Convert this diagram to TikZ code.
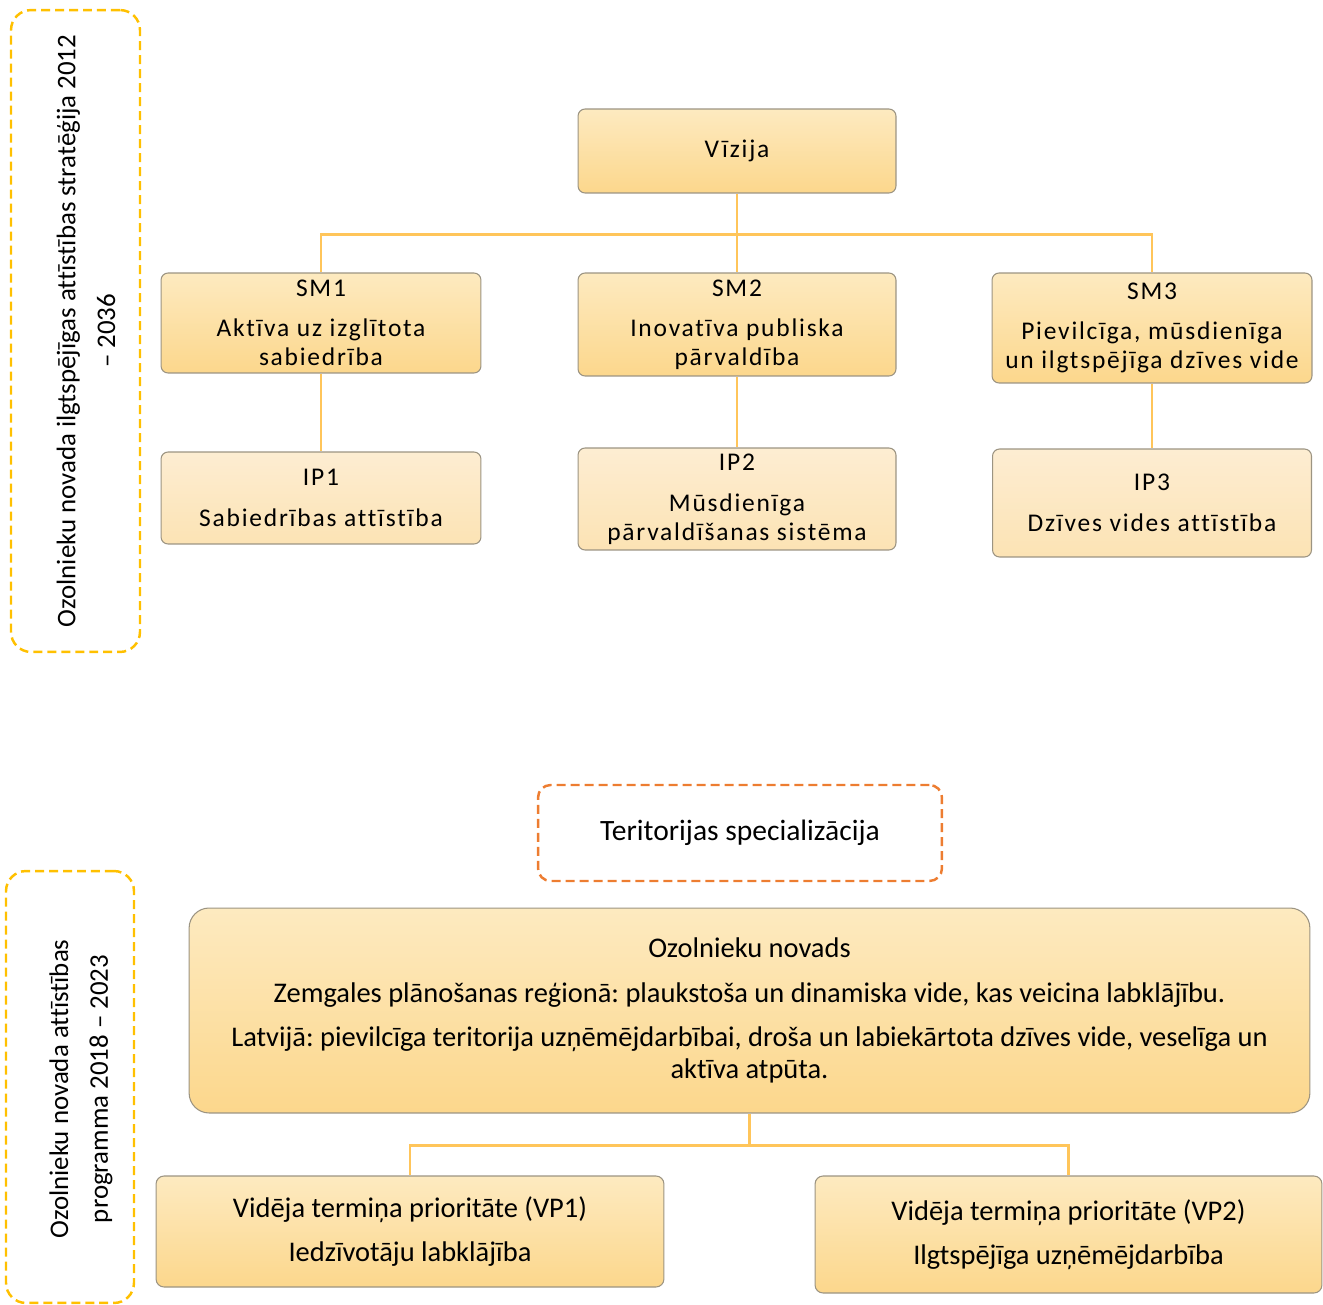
\documentclass[tikz,border=0pt]{standalone}
\usepackage{fontspec}
\setmainfont{Carlito}[Ligatures=NoCommon]
\newfontfamily\boxfont{Carlito}[LetterSpace=7, Ligatures=NoCommon]
\usetikzlibrary{positioning}
\frenchspacing

\definecolor{framegold}{HTML}{FFC000}
\definecolor{frameorange}{HTML}{ED7D31}
\definecolor{linkgold}{HTML}{FFC55A}
\definecolor{boxedge}{HTML}{9C9482}
\definecolor{boxtop}{HTML}{FDEAC0}
\definecolor{boxbottom}{HTML}{FCD78C}
\definecolor{iptop}{HTML}{FDEDD2}
\definecolor{ipbottom}{HTML}{FCE3B4}

\begin{document}
\begin{tikzpicture}[
    x=0.02cm, y=-0.02cm,
    goalbox/.style={draw=boxedge, line width=0.6pt, rounded corners=4pt, top color=boxtop, bottom color=boxbottom, align=center, inner sep=0pt, font=\boxfont\fontsize{14.5}{16.5}\selectfont},
    ipbox/.style={goalbox, top color=iptop, bottom color=ipbottom},
    progbox/.style={draw=boxedge, line width=0.6pt, top color=boxtop, bottom color=boxbottom, align=center, inner sep=0pt, font=\fontsize{16.2}{18.2}\selectfont},
    framebox/.style={draw=framegold, line width=1.4pt, dash pattern=on 0.18cm off 0.1cm, rounded corners=0.4cm},
    framelabel/.style={rotate=90, align=center, font=\fontsize{15.3}{16}\selectfont},
    conn/.style={draw=linkgold, line width=1.3pt}
]
\useasboundingbox (0,0) rectangle (1323,1305);

% strategy frame (top)
\node[framebox, minimum width=2.58cm, minimum height=12.84cm] (stratframe) at (75.5,331) {};
\node[framelabel] (stratlabel) at (86,331) {Ozolnieku novada ilgtspējīgas attīstības stratēģija 2012\\[6.7pt]– 2036};

% vision and goals
\node[goalbox, minimum width=6.36cm, minimum height=1.68cm] (vizija) at (737,151) {Vīzija};
\node[goalbox, minimum width=6.4cm, minimum height=2.0cm] (sm1) at (321,323) {SM1\\[6.2pt]Aktīva uz izglītota\\sabiedrība};
\node[goalbox, minimum width=6.36cm, minimum height=2.06cm] (sm2) at (737,324.5) {SM2\\[6.2pt]Inovatīva publiska\\pārvaldība};
\node[goalbox, minimum width=6.4cm, minimum height=2.2cm] (sm3) at (1152,328) {SM3\\[6.2pt]Pievilcīga, mūsdienīga\\un ilgtspējīga dzīves vide};

% priorities
\node[ipbox, minimum width=6.4cm, minimum height=1.84cm] (ip1) at (321,498) {IP1\\[6.7pt]Sabiedrības attīstība};
\node[ipbox, minimum width=6.36cm, minimum height=2.04cm] (ip2) at (737,499) {IP2\\[6.7pt]Mūsdienīga\\pārvaldīšanas sistēma};
\node[ipbox, minimum width=6.38cm, minimum height=2.16cm] (ip3) at (1152,503) {IP3\\[6.7pt]Dzīves vides attīstība};

% tree links (top)
\draw[conn] (vizija.south) -- (sm2.north);
\draw[conn] (vizija.south) -- ++(0,41) -| (sm1.north);
\draw[conn] (vizija.south) -- ++(0,41) -| (sm3.north);
\draw[conn] (sm1.south) -- (ip1.north);
\draw[conn] (sm2.south) -- (ip2.north);
\draw[conn] (sm3.south) -- (sm3.south |- ip3.north);

% programme frame (bottom)
\node[framebox, minimum width=2.56cm, minimum height=8.64cm] (progframe) at (70,1087) {};
\node[framelabel] (proglabel) at (81,1089) {Ozolnieku novada attīstības\\[6.7pt]programma 2018 – 2023};

% specialisation
\node[framebox, draw=frameorange, rounded corners=0.25cm, minimum width=8.08cm, minimum height=1.92cm, font=\fontsize{16.8}{18}\selectfont] (terit) at (740,833) {Teritorijas specializācija};

\node[progbox, rounded corners=0.4cm, minimum width=22.42cm, minimum height=4.1cm] (novads) at (749.5,1010.5) {Ozolnieku novads\\[7.3pt]Zemgales plānošanas reģionā: plaukstoša un dinamiska vide, kas veicina labklājību.\\[7.3pt]Latvijā: pievilcīga teritorija uzņēmējdarbībai, droša un labiekārtota dzīves vide, veselīga un\\aktīva atpūta.};

\node[progbox, rounded corners=0.16cm, minimum width=10.16cm, minimum height=2.22cm] (vp1) at (410,1231.5) {Vidēja termiņa prioritāte (VP1)\\[7pt]Iedzīvotāju labklājība};
\node[progbox, rounded corners=0.16cm, minimum width=10.14cm, minimum height=2.34cm] (vp2) at (1068.5,1234.5) {Vidēja termiņa prioritāte (VP2)\\[7pt]Ilgtspējīga uzņēmējdarbība};

% tree links (bottom)
\draw[conn] (novads.south) -- ++(0,32) -| (vp1.north);
\draw[conn] (novads.south) -- ++(0,32) -| (vp2.north);
\end{tikzpicture}
\end{document}
